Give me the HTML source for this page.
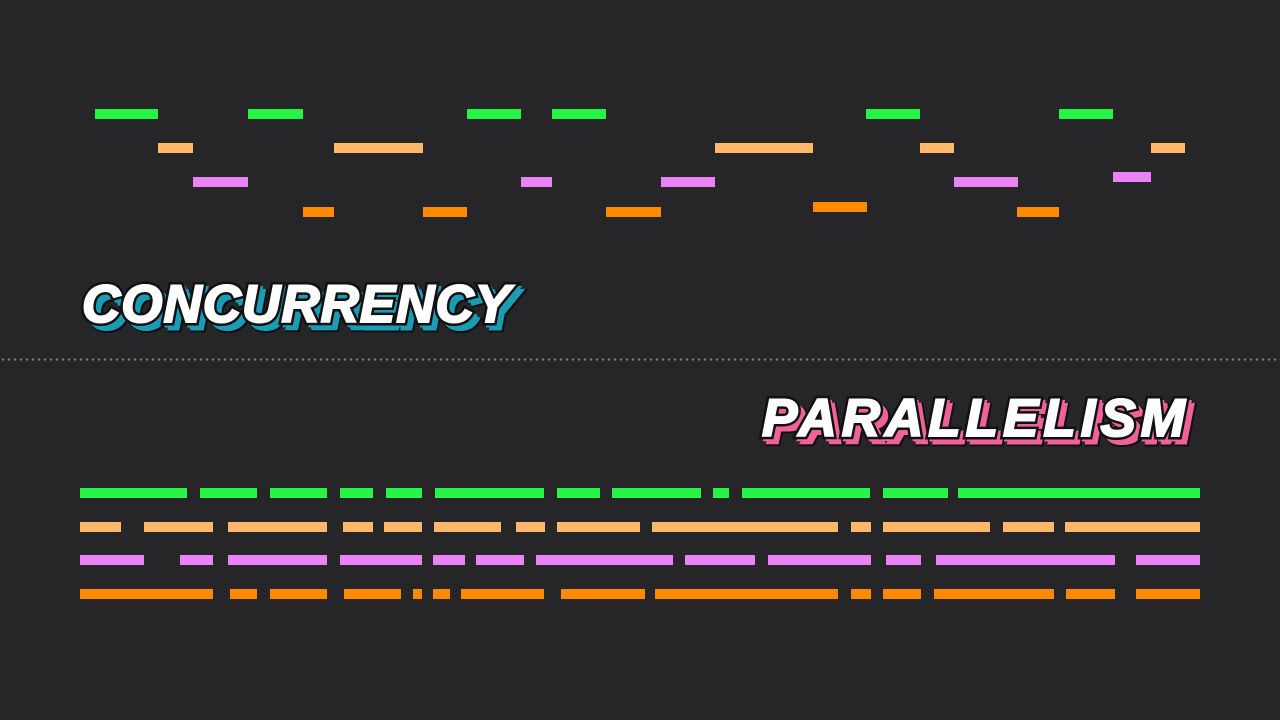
<!DOCTYPE html>
<html><head><meta charset="utf-8"><style>
html,body{margin:0;padding:0;background:#262628;width:1280px;height:720px;overflow:hidden;position:relative}
.b{position:absolute;height:10px}
.g{background:#27f546}.t{background:#ffb86a}.v{background:#e882f5}.o{background:#ff8a00}
.title{position:absolute;font-family:"Liberation Sans",sans-serif;font-weight:bold;font-style:italic;font-size:53px;line-height:1;white-space:nowrap;paint-order:stroke fill}
.c{left:82px;top:278px;letter-spacing:1px}
.p{left:762px;top:392px;letter-spacing:5px}
.ct{color:#1a9cb5;-webkit-text-stroke:5px #1a9cb5}
.pt{color:#f0609a;-webkit-text-stroke:5px #f0609a}
.bk{color:#111;-webkit-text-stroke:7px #111}
.fw{color:#fff;-webkit-text-stroke:2px #fff}
.dots{position:absolute;left:0;top:358px;width:1280px;height:3px;background-image:radial-gradient(circle,#77777b 1.1px,transparent 1.4px);background-size:6px 3px}
</style></head><body>
<div class="b g" style="left:95px;top:109px;width:63px"></div>
<div class="b g" style="left:248px;top:109px;width:55px"></div>
<div class="b g" style="left:467px;top:109px;width:54px"></div>
<div class="b g" style="left:552px;top:109px;width:54px"></div>
<div class="b g" style="left:866px;top:109px;width:54px"></div>
<div class="b g" style="left:1059px;top:109px;width:54px"></div>
<div class="b t" style="left:158px;top:143px;width:35px"></div>
<div class="b t" style="left:334px;top:143px;width:89px"></div>
<div class="b t" style="left:715px;top:143px;width:98px"></div>
<div class="b t" style="left:920px;top:143px;width:34px"></div>
<div class="b t" style="left:1151px;top:143px;width:34px"></div>
<div class="b v" style="left:193px;top:177px;width:55px"></div>
<div class="b v" style="left:521px;top:177px;width:31px"></div>
<div class="b v" style="left:661px;top:177px;width:54px"></div>
<div class="b v" style="left:954px;top:177px;width:64px"></div>
<div class="b v" style="left:1113px;top:172px;width:38px"></div>
<div class="b o" style="left:303px;top:207px;width:31px"></div>
<div class="b o" style="left:423px;top:207px;width:44px"></div>
<div class="b o" style="left:606px;top:207px;width:55px"></div>
<div class="b o" style="left:813px;top:202px;width:54px"></div>
<div class="b o" style="left:1017px;top:207px;width:42px"></div>

<div class="title c bk" style="transform:translate(7px,7px)">CONCURRENCY</div>
<div class="title c ct" style="transform:translate(6px,6px)">CONCURRENCY</div>
<div class="title c ct" style="transform:translate(3px,3px)">CONCURRENCY</div>
<div class="title c bk">CONCURRENCY</div>
<div class="title c fw">CONCURRENCY</div>

<div class="dots"></div>

<div class="title p bk" style="transform:translate(7px,7px)">PARALLELISM</div>
<div class="title p pt" style="transform:translate(6px,6px)">PARALLELISM</div>
<div class="title p pt" style="transform:translate(3px,3px)">PARALLELISM</div>
<div class="title p bk">PARALLELISM</div>
<div class="title p fw">PARALLELISM</div>

<div class="b g" style="left:80px;top:488px;width:107px"></div>
<div class="b g" style="left:200px;top:488px;width:57px"></div>
<div class="b g" style="left:270px;top:488px;width:57px"></div>
<div class="b g" style="left:340px;top:488px;width:33px"></div>
<div class="b g" style="left:386px;top:488px;width:36px"></div>
<div class="b g" style="left:435px;top:488px;width:109px"></div>
<div class="b g" style="left:557px;top:488px;width:43px"></div>
<div class="b g" style="left:612px;top:488px;width:89px"></div>
<div class="b g" style="left:713px;top:488px;width:16px"></div>
<div class="b g" style="left:742px;top:488px;width:128px"></div>
<div class="b g" style="left:883px;top:488px;width:65px"></div>
<div class="b g" style="left:958px;top:488px;width:242px"></div>

<div class="b t" style="left:80px;top:522px;width:41px"></div>
<div class="b t" style="left:144px;top:522px;width:69px"></div>
<div class="b t" style="left:228px;top:522px;width:99px"></div>
<div class="b t" style="left:343px;top:522px;width:30px"></div>
<div class="b t" style="left:384px;top:522px;width:38px"></div>
<div class="b t" style="left:434px;top:522px;width:67px"></div>
<div class="b t" style="left:516px;top:522px;width:29px"></div>
<div class="b t" style="left:557px;top:522px;width:83px"></div>
<div class="b t" style="left:652px;top:522px;width:186px"></div>
<div class="b t" style="left:851px;top:522px;width:20px"></div>
<div class="b t" style="left:883px;top:522px;width:107px"></div>
<div class="b t" style="left:1003px;top:522px;width:51px"></div>
<div class="b t" style="left:1065px;top:522px;width:135px"></div>

<div class="b v" style="left:80px;top:555px;width:64px"></div>
<div class="b v" style="left:180px;top:555px;width:33px"></div>
<div class="b v" style="left:228px;top:555px;width:99px"></div>
<div class="b v" style="left:340px;top:555px;width:82px"></div>
<div class="b v" style="left:433px;top:555px;width:32px"></div>
<div class="b v" style="left:476px;top:555px;width:48px"></div>
<div class="b v" style="left:536px;top:555px;width:137px"></div>
<div class="b v" style="left:685px;top:555px;width:70px"></div>
<div class="b v" style="left:768px;top:555px;width:103px"></div>
<div class="b v" style="left:886px;top:555px;width:35px"></div>
<div class="b v" style="left:936px;top:555px;width:179px"></div>
<div class="b v" style="left:1136px;top:555px;width:64px"></div>

<div class="b o" style="left:80px;top:589px;width:133px"></div>
<div class="b o" style="left:230px;top:589px;width:27px"></div>
<div class="b o" style="left:270px;top:589px;width:57px"></div>
<div class="b o" style="left:344px;top:589px;width:57px"></div>
<div class="b o" style="left:413px;top:589px;width:9px"></div>
<div class="b o" style="left:433px;top:589px;width:17px"></div>
<div class="b o" style="left:461px;top:589px;width:83px"></div>
<div class="b o" style="left:561px;top:589px;width:84px"></div>
<div class="b o" style="left:655px;top:589px;width:183px"></div>
<div class="b o" style="left:851px;top:589px;width:20px"></div>
<div class="b o" style="left:883px;top:589px;width:38px"></div>
<div class="b o" style="left:934px;top:589px;width:120px"></div>
<div class="b o" style="left:1066px;top:589px;width:49px"></div>
<div class="b o" style="left:1136px;top:589px;width:64px"></div>
</body></html>
